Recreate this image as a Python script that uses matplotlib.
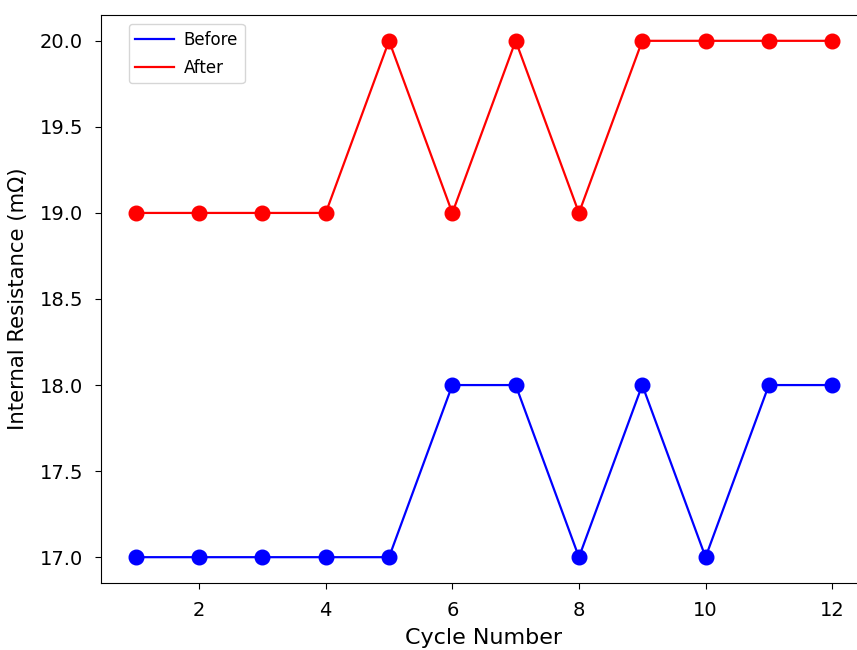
import matplotlib
matplotlib.use("Agg")
import matplotlib.pyplot as plt

cycles = [1, 2, 3, 4, 5, 6, 7, 8, 9, 10, 11, 12]
before = [17, 17, 17, 17, 17, 18, 18, 17, 18, 17, 18, 18]
after = [19, 19, 19, 19, 20, 19, 20, 19, 20, 20, 20, 20]

fig = plt.figure(figsize=(8.57, 6.5), dpi=100)
ax = fig.add_axes([101 / 857, 67 / 650, 766 / 857, 568 / 650])

ax.plot(cycles, before, color="blue", linewidth=1.6, label="Before")
ax.plot(cycles, after, color="red", linewidth=1.6, label="After")
ax.plot(cycles, before, "o", color="blue", markersize=10.5)
ax.plot(cycles, after, "o", color="red", markersize=10.5)

ax.set_xlabel("Cycle Number", fontsize=16, labelpad=6)
ax.set_ylabel("Internal Resistance (mΩ)", fontsize=15.3, labelpad=8)
ax.tick_params(labelsize=14, length=4, pad=9)
ax.legend(loc="upper left", bbox_to_anchor=(0.036, 0.984), borderaxespad=0,
          fontsize=12, handlelength=2.3, handletextpad=0.6, labelspacing=0.6)

fig.savefig("out.png", dpi=100)
